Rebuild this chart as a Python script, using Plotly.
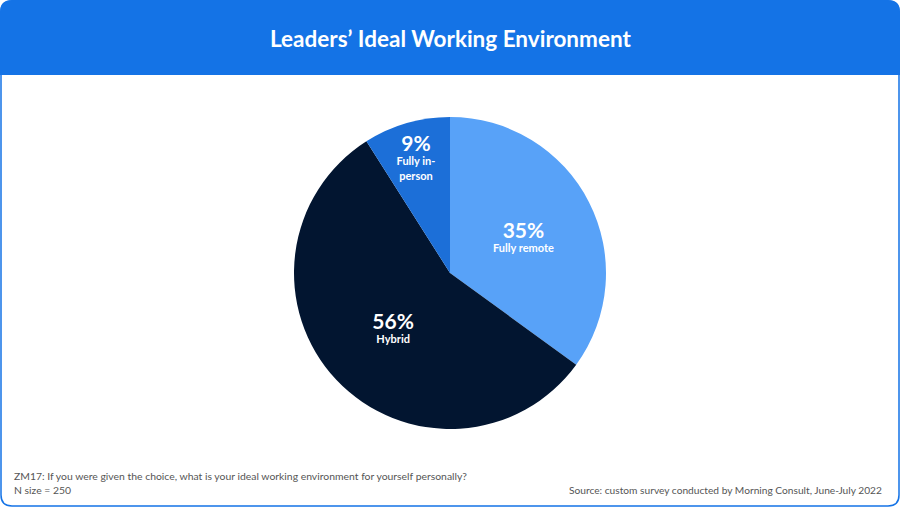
import plotly.graph_objects as go

labels = ['Fully remote', 'Hybrid', 'Fully in-<br>person']
values = [35, 56, 9]
colors = ['#58a2f8', '#021530', '#1c6fd8']

W, H = 900, 507
BLUE = '#1473e6'

fig = go.Figure()
fig.add_trace(go.Pie(
    labels=labels,
    values=values,
    sort=False,
    direction='clockwise',
    rotation=0,
    marker=dict(colors=colors, line=dict(width=0)),
    texttemplate='<b><span style="font-size:21px">%{value}%</span></b><br><b>%{label}</b>',
    textposition='inside',
    insidetextorientation='horizontal',
    textfont=dict(family='Lato', size=11, color='white'),
    hoverinfo='label+percent',
    showlegend=False,
    domain=dict(x=[294 / W, 606 / W], y=[1 - 430 / H, 1 - 116 / H]),
))


def px_x(v):
    return v / W


def px_y(v):
    return 1 - v / H


r = 12
# header band with rounded top corners
header = (f'M {px_x(0)},{px_y(75)} L {px_x(0)},{px_y(r)} '
          f'Q {px_x(0)},{px_y(0)} {px_x(r)},{px_y(0)} '
          f'L {px_x(W - r)},{px_y(0)} Q {px_x(W)},{px_y(0)} {px_x(W)},{px_y(r)} '
          f'L {px_x(W)},{px_y(75)} Z')
# card border
b = 1
border = (f'M {px_x(b)},{px_y(r)} Q {px_x(b)},{px_y(b)} {px_x(r)},{px_y(b)} '
          f'L {px_x(W - r)},{px_y(b)} Q {px_x(W - b)},{px_y(b)} {px_x(W - b)},{px_y(r)} '
          f'L {px_x(W - b)},{px_y(H - r)} Q {px_x(W - b)},{px_y(H - b)} {px_x(W - r)},{px_y(H - b)} '
          f'L {px_x(r)},{px_y(H - b)} Q {px_x(b)},{px_y(H - b)} {px_x(b)},{px_y(H - r)} Z')

fig.update_layout(
    width=W, height=H,
    margin=dict(l=0, r=0, t=0, b=0),
    paper_bgcolor='white',
    plot_bgcolor='white',
    font=dict(family='Lato'),
    shapes=[
        dict(type='path', path=border, xref='paper', yref='paper',
             line=dict(color=BLUE, width=1.5), fillcolor='white', layer='below'),
        dict(type='path', path=header, xref='paper', yref='paper',
             line=dict(width=0), fillcolor=BLUE, layer='below'),
    ],
    annotations=[
        dict(text='<b>Leaders’ Ideal Working Environment</b>', x=0.5, y=px_y(39),
             xref='paper', yref='paper', showarrow=False,
             font=dict(family='Lato', size=22.5, color='white'),
             xanchor='center', yanchor='middle'),
        dict(text='ZM17: If you were given the choice, what is your ideal working environment for yourself personally?<br>N size = 250',
             x=px_x(12), y=px_y(498), xref='paper', yref='paper', showarrow=False,
             align='left', xanchor='left', yanchor='bottom',
             font=dict(family='Lato', size=10.4, color='#555555')),
        dict(text='Source: custom survey conducted by Morning Consult, June-July 2022',
             x=px_x(884), y=px_y(498), xref='paper', yref='paper', showarrow=False,
             align='right', xanchor='right', yanchor='bottom',
             font=dict(family='Lato', size=10.2, color='#555555')),
    ],
)

fig.write_html('out.html', config={'displayModeBar': False},
               post_script="document.body.style.margin='0';")
